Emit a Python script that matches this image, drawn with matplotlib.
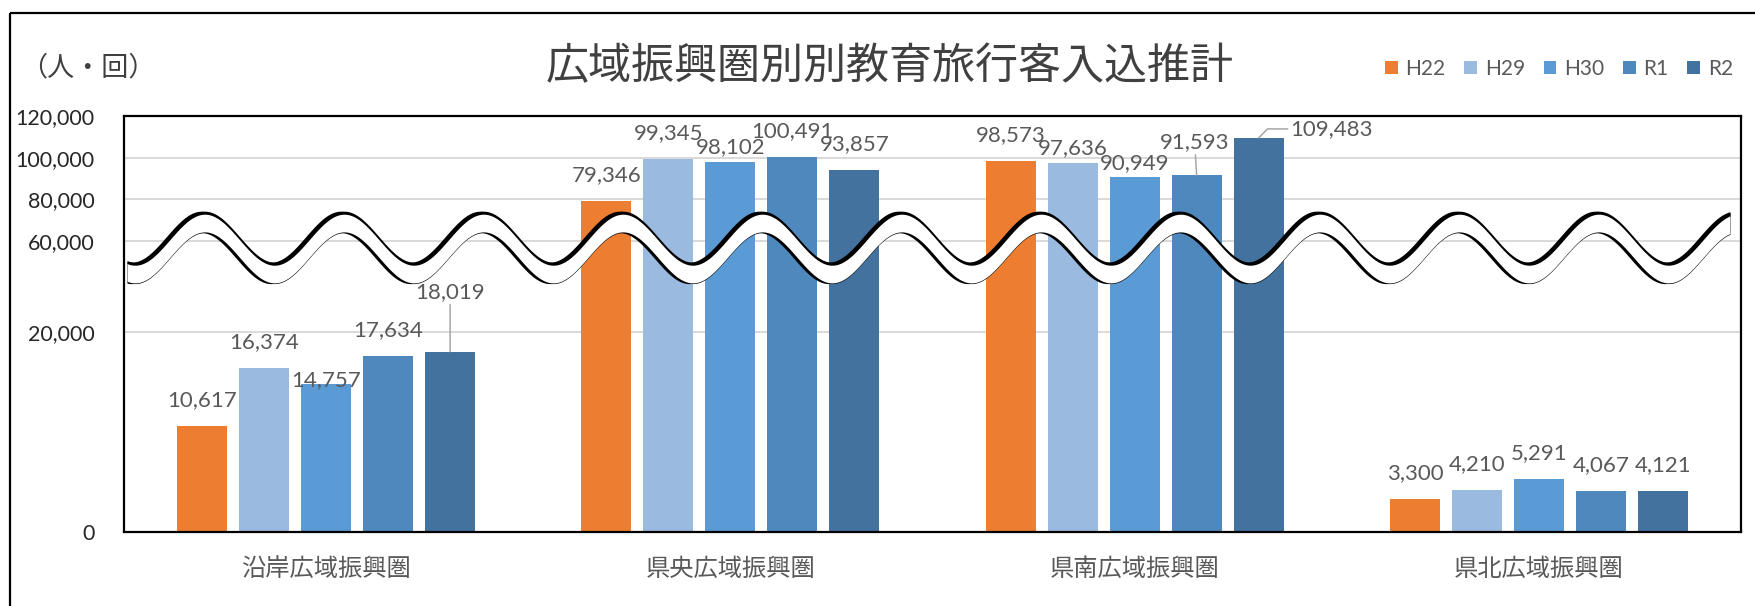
import numpy as np
import matplotlib
matplotlib.use('Agg')
import matplotlib.pyplot as plt
from matplotlib.patches import Rectangle, Patch
from matplotlib.ticker import FuncFormatter

# ---------------- data ----------------
categories = ['沿岸広域振興圏', '県央広域振興圏', '県南広域振興圏', '県北広域振興圏']
series_names = ['H22', 'H29', 'H30', 'R1', 'R2']
h22 = [10617, 79346, 98573, 3300]
h29 = [16374, 99345, 97636, 4210]
h30 = [14757, 98102, 90949, 5291]
r1 = [17634, 100491, 91593, 4067]
r2 = [18019, 93857, 109483, 4121]
yticks = [0, 20000, 60000, 80000, 100000, 120000]
title = '広域振興圏別別教育旅行客入込推計'
unit_label = '（人・回）'

series = [h22, h29, h30, r1, r2]
colors = ['#ED7D31', '#9BBADF', '#5B9BD5', '#4E88BD', '#43729F']

CJK = 'Noto Sans CJK JP'
plt.rcParams['font.family'] = ['Lato', CJK, 'DejaVu Sans']

W, H = 1755, 606
fig = plt.figure(figsize=(W / 100, H / 100), dpi=100)
fig.patch.set_facecolor('white')

# plot area (pixel layout)
L, R, T, B = 124, 1741, 116, 532
ax = fig.add_axes([L / W, 1 - B / H, (R - L) / W, (B - T) / H])

# broken (piecewise-linear) value axis
brk_v = [0, 20000, 60000, 120000]
brk_p = [0, 200, 291, 416]


def fwd(v):
    return np.interp(v, brk_v, brk_p)


def inv(p):
    return np.interp(p, brk_p, brk_v)


ax.set_yscale('function', functions=(fwd, inv))
ax.set_ylim(0, 120000)
ax.set_xlim(-0.5, 3.5)

cat_px = (R - L) / 4.0
bw = 50 / cat_px
step = 62 / cat_px
x = np.arange(len(categories))

# label offsets in pixels (dx, dy) and leader style
default_off = (0, 26)
special = {
    (2, 0): ((0, 4), None),
    (4, 0): ((0, 60), 'line'),
    (2, 1): ((0, 15), None),
    (1, 2): ((0, 14), None),
    (2, 2): ((0, 13), None),
    (3, 2): ((-2, 33), 'line'),
    (4, 2): ((73, 9), 'elbow'),
}

for i, (name, vals, col) in enumerate(zip(series_names, series, colors)):
    xs = x + (i - 2) * step
    ax.bar(xs, vals, bw, color=col, zorder=2, label=name)
    for j, (xc, v) in enumerate(zip(xs, vals)):
        off, leader = special.get((i, j), (default_off, None))
        kw = dict(xy=(xc, v), xytext=off, textcoords='offset pixels',
                  ha='center', va='center', fontsize=16, color='#595959',
                  zorder=6, annotation_clip=False)
        if leader == 'line':
            kw['arrowprops'] = dict(arrowstyle='-', color='#a6a6a6', lw=1.1,
                                    shrinkA=0, shrinkB=0)
        elif leader == 'elbow':
            kw['arrowprops'] = dict(arrowstyle='-', color='#a6a6a6', lw=1.1,
                                    shrinkA=0, shrinkB=0, relpos=(0, 0.5),
                                    connectionstyle='angle,angleA=0,angleB=45,rad=0')
        ax.annotate(f'{v:,}', **kw)

ax.set_yticks(yticks)
ax.yaxis.set_major_formatter(FuncFormatter(lambda v, p: f'{int(round(v)):,}'))
ax.yaxis.grid(True, color='#d9d9d9', lw=1.4)
ax.set_axisbelow(True)
ax.tick_params(axis='y', length=0, pad=21, labelsize=15.5, labelcolor='#262626')
ax.set_xticks(x)
ax.set_xticklabels(categories, fontsize=17.5, color='#595959', family=CJK)
ax.tick_params(axis='x', length=0, pad=17)
for sp in ax.spines.values():
    sp.set_color('black')
    sp.set_linewidth(1.6)

# ---------------- overlay (pixel coordinates) ----------------
ov = fig.add_axes([0, 0, 1, 1], zorder=3)
ov.set_xlim(0, W)
ov.set_ylim(H, 0)
ov.axis('off')
ov.patch.set_alpha(0)

# break wave (white ribbon with black edge and shadow)
P, x0, A, yc, gap, s = 139.4, 135.0, 25.5, 238.5, 19.0, 3.5
xw = np.linspace(127, 1730, 4000)


def yu(xx):
    return yc + A * np.cos(2 * np.pi * (xx - x0) / P)


top = yu(xw)
bot = top + gap
ov.fill_between(xw, yu(xw + s) - 1.8, yu(xw + s) + gap + 0.6, color='black', lw=0)
ov.fill_between(xw, top - 1.8, bot + 0.6, color='black', lw=0)
ov.fill_between(xw, top + 1.2, bot - 0.1, color='white', lw=0)

# outer frame
ov.add_patch(Rectangle((10, 13), W, H, fill=False, ec='black', lw=1.6))

# title, unit, legend
fig.text(890 / W, 1 - 67 / H, title, ha='center', va='center', fontsize=31,
         family=CJK, color='#404040')
fig.text(20 / W, 1 - 68 / H, unit_label, ha='left', va='center', fontsize=19.5,
         family=CJK, color='#404040')

handles = [Patch(facecolor=c, edgecolor='none') for c in colors]
fig.legend(handles, series_names, loc='center', bbox_to_anchor=(1559 / W, 1 - 69 / H),
           ncol=5, frameon=False, fontsize=15, handlelength=0.6, handleheight=0.6,
           handletextpad=0.38, columnspacing=0.9, labelcolor='#595959')

fig.savefig('out.png', dpi=100, facecolor='white')
